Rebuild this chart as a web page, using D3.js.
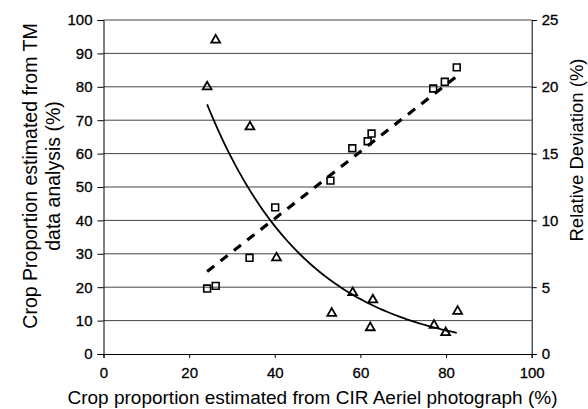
<!DOCTYPE html>
<html><head><meta charset="utf-8">
<script src="https://cdn.jsdelivr.net/npm/d3@7"></script>
<style>
body{margin:0;background:#fff;}
text{font-family:"Liberation Sans",Arial,sans-serif;fill:#000;}
</style></head>
<body><svg id="c" width="588" height="409"></svg>
<script>
// Data: x = crop proportion from CIR aerial photograph (%)
const sqX = [24.2, 26.2, 34.1, 40.1, 53.0, 58.1, 61.7, 62.6, 77.0, 79.7, 82.5];
const sqY = [19.6, 20.4, 28.8, 43.9, 51.9, 61.6, 63.7, 66.0, 79.5, 81.5, 85.8];
const triX = [24.2, 26.2, 34.2, 40.4, 53.3, 58.2, 62.3, 62.9, 77.2, 79.9, 82.7];
const triY = [20.0, 23.5, 17.0, 7.2, 3.05, 4.6, 1.97, 4.05, 2.15, 1.6, 3.2];
// trend lines: linear for squares, exponential for triangles
const linTrend = {slope: 1.003, intercept: 0.42, from: 24.2, to: 82.5};
const expTrend = {a: 52, b: -0.0423, from: 24.2, to: 82.5};
const xTicks = [0, 20, 40, 60, 80, 100];
const yLeftTicks = [0, 10, 20, 30, 40, 50, 60, 70, 80, 90, 100];
const yRightTicks = [0, 5, 10, 15, 20, 25];
const xTitle = "Crop proportion estimated from CIR Aeriel photograph (%)";
const yLeftTitle = ["Crop Proportion estimated from TM", "data analysis (%)"];
const yRightTitle = "Relative Deviation (%)";

const svg = d3.select("#c");
const L = 103.5, R = 531.7, T = 20, B = 354;
const x = d3.scaleLinear().domain([0, 100]).range([L, R]);
const yl = d3.scaleLinear().domain([0, 100]).range([B, T]);
const yr = d3.scaleLinear().domain([0, 25]).range([B, T]);

// gridlines
svg.append("g").selectAll("line").data(yLeftTicks.filter(d => d > 0)).join("line")
  .attr("x1", L).attr("x2", R).attr("y1", d => yl(d)).attr("y2", d => yl(d))
  .attr("stroke", "#444").attr("stroke-width", 1);

// axes
const fs = "15px";
const gx = svg.append("g").attr("transform", `translate(0,${B})`)
  .call(d3.axisBottom(x).tickValues(xTicks).tickSize(4).tickPadding(9));
const gl = svg.append("g").attr("transform", `translate(${L},0)`)
  .call(d3.axisLeft(yl).tickValues(yLeftTicks).tickSize(6).tickPadding(5));
const gr = svg.append("g").attr("transform", `translate(${R},0)`)
  .call(d3.axisRight(yr).tickValues(yRightTicks).tickSize(5).tickPadding(5));
[gx, gl, gr].forEach(g => {
  g.selectAll("text").style("font-size", fs).attr("fill", "#000")
    .attr("stroke", "#000").attr("stroke-width", 0.3);
  g.selectAll("path,line").attr("stroke", "#000");
  g.attr("font-family", null);
});

// trend lines
const linPts = [linTrend.from, linTrend.to].map(v => [v, linTrend.slope * v + linTrend.intercept]);
svg.append("path").datum(linPts)
  .attr("d", d3.line().x(d => x(d[0])).y(d => yl(d[1])))
  .attr("fill", "none").attr("stroke", "#000").attr("stroke-width", 3.2)
  .attr("stroke-dasharray", "9,8");
const expPts = d3.range(expTrend.from, expTrend.to + 0.001, (expTrend.to - expTrend.from) / 80)
  .map(v => [v, expTrend.a * Math.exp(expTrend.b * v)]);
svg.append("path").datum(expPts)
  .attr("d", d3.line().x(d => x(d[0])).y(d => yr(d[1])))
  .attr("fill", "none").attr("stroke", "#000").attr("stroke-width", 1.8);

// markers
svg.append("g").selectAll("path").data(sqX.map((v, i) => [v, sqY[i]])).join("path")
  .attr("transform", d => `translate(${x(d[0])},${yl(d[1])})`)
  .attr("d", d3.symbol(d3.symbolSquare, 46))
  .attr("fill", "none").attr("stroke", "#000").attr("stroke-width", 1.6);
svg.append("g").selectAll("path").data(triX.map((v, i) => [v, triY[i]])).join("path")
  .attr("transform", d => `translate(${x(d[0])},${yr(d[1])})`)
  .attr("d", d3.symbol(d3.symbolTriangle, 34))
  .attr("fill", "none").attr("stroke", "#000").attr("stroke-width", 1.8);

// titles
svg.append("text").attr("x", (70 + 555) / 2).attr("y", 404).attr("text-anchor", "middle")
  .style("font-size", "19px").text(xTitle);
svg.append("text").attr("transform", "translate(37,176) rotate(-90)").attr("text-anchor", "middle")
  .style("font-size", "19.5px").text(yLeftTitle[0]);
svg.append("text").attr("transform", "translate(60,176) rotate(-90)").attr("text-anchor", "middle")
  .style("font-size", "19.5px").text(yLeftTitle[1]);
svg.append("text").attr("transform", "translate(583,150) rotate(-90)").attr("text-anchor", "middle")
  .style("font-size", "18.5px").text(yRightTitle);
</script></body></html>
